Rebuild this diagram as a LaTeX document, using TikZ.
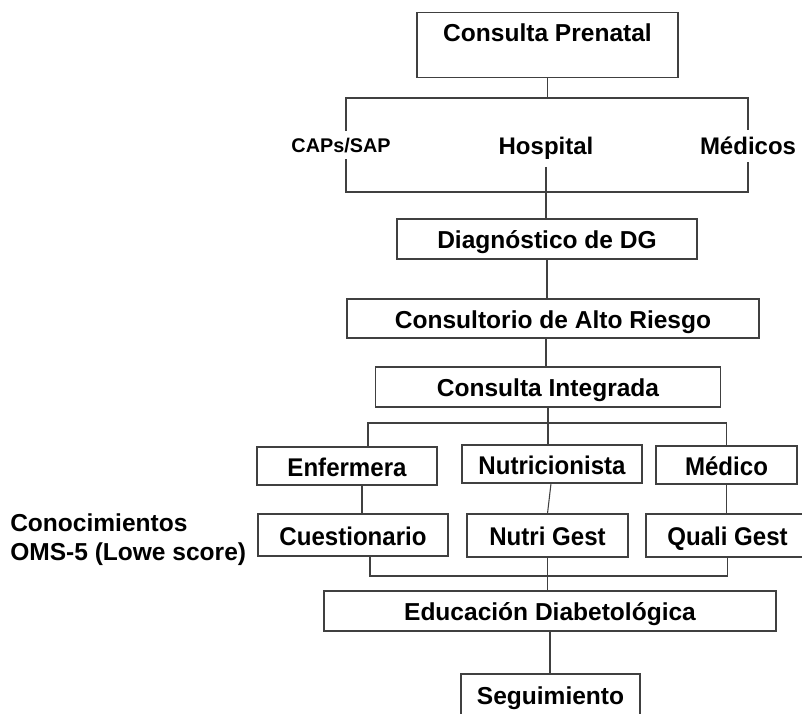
\documentclass[tikz,border=0pt]{standalone}
\usepackage{fontspec}
\setmainfont{Liberation Sans}
\newfontfamily\narrowfont[FakeStretch=0.94]{Liberation Sans}

\begin{document}
\begin{tikzpicture}[x=0.75pt, y=-0.75pt,
    box/.style={draw=black!75, line width=0.8pt, inner sep=0pt, text height=14.5pt, text depth=0pt,
      font=\fontsize{18.4}{22}\selectfont\bfseries},
    rolebox/.style={box, text height=15pt, font=\narrowfont\fontsize{19.2}{23}\selectfont\bfseries},
    lbl/.style={inner sep=5pt, anchor=base, font=\fontsize{18}{22}\selectfont\bfseries},
    link/.style={draw=black!75, line width=0.8pt}]
  \useasboundingbox (0,0) rectangle (802,713);

  % entry and places
  \node (prenatal) [box, minimum width=195.75pt, text height=21.75pt, text depth=27pt]
    at (547.5,12) [anchor=north] {Consulta Prenatal};
  \node (caps) [lbl, font=\fontsize{14.85}{18}\selectfont\bfseries] at (341,152) {CAPs/SAP};
  \node (hospital) [lbl] at (546,155) {Hospital};
  \node (medicos) [lbl] at (748,155) {Médicos};

  % main column
  \node (diag) [box, minimum width=225pt, minimum height=30pt] at (547,239) {Diagnóstico de DG};
  \node (consultorio) [box, minimum width=309pt, minimum height=29.25pt] at (553,318.5) {Consultorio de Alto Riesgo};
  \node (integrada) [box, minimum width=258.75pt, minimum height=30pt] at (548,387) {Consulta Integrada};

  % team and tools
  \node (enf) [rolebox, minimum width=135pt, minimum height=28.5pt] at (347,466) {Enfermera};
  \node (nutri) [rolebox, minimum width=135pt, minimum height=28.5pt] at (552,464) {Nutricionista};
  \node (medico) [rolebox, minimum width=105.75pt, minimum height=28.5pt] at (726.5,465) {Médico};
  \node (cuest) [rolebox, minimum width=142.5pt, minimum height=31.5pt] at (353,535) {Cuestionario};
  \node (ngest) [rolebox, minimum width=120.75pt, minimum height=32.25pt] at (547.5,535.5) {Nutri Gest};
  \node (qgest) [rolebox, minimum width=122.25pt, minimum height=32.25pt] at (727.5,535.5) {Quali Gest};
  \node (oms) [anchor=west, align=left, inner sep=0pt, font=\fontsize{18.4}{21.75}\selectfont\bfseries]
    at (10,540) {Conocimientos\\OMS-5 (Lowe score)};

  \node (edu) [box, minimum width=339pt, minimum height=30pt] at (550,611) {Educación Diabetológica};
  \node (seg) [box, minimum width=134.25pt, minimum height=31.5pt] at (550.5,695) {Seguimiento};

  % connectors
  \coordinate (topbar) at (547.5,98);
  \coordinate (lowbar) at (547,192);
  \coordinate (rolebar) at (548,423);
  \coordinate (toolbar) at (547,576);

  \draw[link] (prenatal.south) -- (topbar);
  \draw[link] ([xshift=3.75pt]caps.north) |- (topbar) -| (medicos.north);
  \draw[link] ([xshift=3.75pt]caps.south) |- (lowbar) -| (medicos.south);
  \draw[link] (hospital.south) -- (hospital.south |- diag.north);
  \draw[link] (diag.south) -- (diag.south |- consultorio.north);
  \draw[link] ([xshift=-5.25pt]consultorio.south) -- ([xshift=-5.25pt]consultorio.south |- integrada.north);
  \draw[link] (integrada.south) -- (rolebar);
  \draw[link] ([xshift=15.75pt]enf.north) |- (rolebar) -| (medico.north);
  \draw[link] (rolebar) -- (rolebar |- nutri.north);
  \draw[link] ([xshift=11.25pt]enf.south) -- ([xshift=11.25pt]enf.south |- cuest.north);
  \draw[link] ([xshift=-0.75pt]nutri.south) -- (ngest.north);
  \draw[link] (medico.south) -- (medico.south |- qgest.north);
  \draw[link] ([xshift=12.75pt]cuest.south) |- (toolbar) -| (qgest.south);
  \draw[link] (ngest.south) -- (ngest.south |- edu.north);
  \draw[link] (edu.south) -- (edu.south |- seg.north);
\end{tikzpicture}
\end{document}
